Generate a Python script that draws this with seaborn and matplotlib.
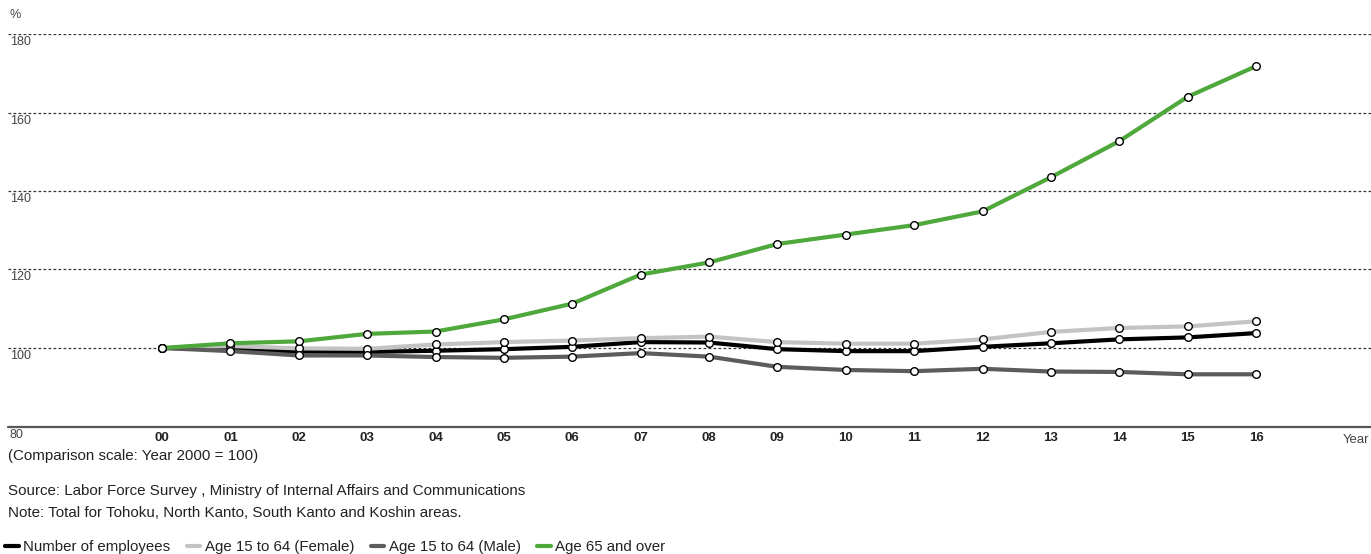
import matplotlib
matplotlib.use("Agg")
import matplotlib.pyplot as plt
import matplotlib.transforms as mtransforms
from matplotlib.lines import Line2D
import seaborn as sns
import pandas as pd

years = ["00", "01", "02", "03", "04", "05", "06", "07", "08", "09",
         "10", "11", "12", "13", "14", "15", "16"]
total = [100, 99.8, 99.1, 99.0, 99.3, 99.7, 100.3, 101.5, 101.4, 99.7,
         99.2, 99.2, 100.3, 101.2, 102.2, 102.7, 103.8]
female = [100, 100.5, 99.9, 99.8, 100.9, 101.5, 101.9, 102.5, 102.9, 101.5,
          101.1, 101.1, 102.2, 104.1, 105.1, 105.5, 106.8]
male = [100, 99.2, 98.1, 98.1, 97.7, 97.5, 97.8, 98.7, 97.8, 95.2,
        94.4, 94.1, 94.7, 94.0, 93.9, 93.3, 93.3]
age65 = [100, 101.2, 101.7, 103.6, 104.2, 107.3, 111.3, 118.7, 121.8, 126.5,
         128.9, 131.3, 134.8, 143.5, 152.7, 164.0, 171.8]
series_names = ["Number of employees", "Age 15 to 64 (Female)",
                "Age 15 to 64 (Male)", "Age 65 and over"]
colors = ["#000000", "#c3c3c3", "#5c5c5c", "#4ea83c"]
y_ticks = [80, 100, 120, 140, 160, 180]

sns.set_theme(style="white")
plt.rcParams["font.family"] = ["Liberation Sans", "DejaVu Sans"]

W, H = 1371, 554
fig = plt.figure(figsize=(W / 100, H / 100), dpi=100)
ax = fig.add_axes([8 / W, (H - 426.5) / H, (W - 8) / W, (426.5 - 34) / H])

xi = list(range(len(years)))
x_left = -(162 - 8) / 68.375
x_right = 16 + (W - 1256) / 68.375
ax.set_xlim(x_left, x_right)
ax.set_ylim(80, 180)

# gridlines
for v in y_ticks[1:]:
    ax.axhline(v, color="#333333", lw=0.9, ls=(0, (2.2, 1.8)), zorder=1)
ax.axhline(80, color="#555555", lw=1.6, zorder=1, clip_on=False)

data = [total, female, male, age65]
order = [2, 1, 0, 3]
for i in order:
    df = pd.DataFrame({"x": xi, "y": data[i]})
    sns.lineplot(data=df, x="x", y="y", ax=ax, color=colors[i], lw=3.0,
                 marker="o", markersize=5.5, markerfacecolor="white",
                 markeredgecolor="black", markeredgewidth=1.0, zorder=3 + i,
                 clip_on=False)

for s in ax.spines.values():
    s.set_visible(False)
ax.set_xlabel("")
ax.set_ylabel("")
ax.set_yticks([])
ax.set_xticks(xi)
ax.set_xticklabels(years, fontweight="bold", fontsize=9.5, color="#222222")
ax.tick_params(axis="x", length=0, pad=4)

# y tick labels below gridlines
trans = mtransforms.blended_transform_factory(fig.transFigure, ax.transData)
off = mtransforms.ScaledTranslation(0, -2 / 100, fig.dpi_scale_trans)
for v in y_ticks:
    ax.text(10 / W, v, str(v), transform=trans + off, ha="left", va="top",
            fontsize=9, color="#444444")

fig.text(10 / W, 1 - 15 / H, "%", ha="left", va="center", fontsize=9,
         color="#444444")
fig.text(W - 2, H - 440, "Year", transform=None, ha="right", va="center",
         fontsize=9.5, color="#444444")

fs = 10.9
fig.text(8 / W, 1 - 456 / H, "(Comparison scale: Year 2000 = 100)",
         ha="left", va="center", fontsize=fs, color="#222222")
fig.text(8 / W, 1 - 491 / H,
         "Source: Labor Force Survey , Ministry of Internal Affairs and Communications",
         ha="left", va="center", fontsize=fs, color="#222222")
fig.text(8 / W, 1 - 513 / H,
         "Note: Total for Tohoku, North Kanto, South Kanto and Koshin areas.",
         ha="left", va="center", fontsize=fs, color="#222222")

handles = [Line2D([0], [0], color=c, lw=3.0) for c in colors]
fig.legend(handles, series_names, loc="center left",
           bbox_to_anchor=(5 / W, 1 - 547 / H), ncol=4, frameon=False,
           handlelength=0.9, handletextpad=0.3, columnspacing=1.1,
           fontsize=10.8, borderaxespad=0, borderpad=0,
           labelcolor="#222222")

fig.savefig("out.png", dpi=100)
